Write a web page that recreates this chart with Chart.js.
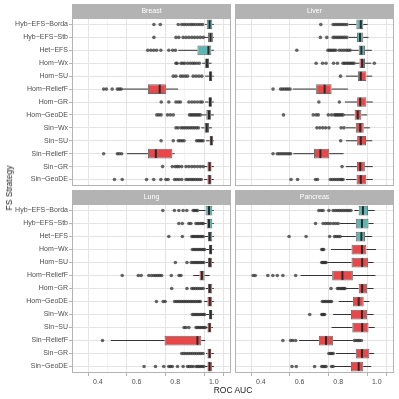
<!DOCTYPE html>
<html><head><meta charset="utf-8">
<script src="https://cdn.jsdelivr.net/npm/chart.js@4/dist/chart.umd.min.js"></script>
<style>
html,body{margin:0;padding:0;background:#fff;}
#wrap{position:relative;width:399px;height:399px;overflow:hidden;background:#fff;font-family:"Liberation Sans",Arial,sans-serif;}
canvas{position:absolute;left:0;top:0;}
.xt{position:absolute;left:72px;width:322px;top:384px;text-align:center;font-size:8.5px;color:#1a1a1a;line-height:12px;}
.yt{position:absolute;left:9px;top:188px;transform:translate(-50%,-50%) rotate(-90deg);font-size:8.5px;white-space:nowrap;color:#1a1a1a;line-height:10px;}
</style></head>
<body><div id="wrap">
<canvas id="c0" width="399" height="399"></canvas>
<canvas id="c1" width="399" height="399"></canvas>
<canvas id="c2" width="399" height="399"></canvas>
<canvas id="c3" width="399" height="399"></canvas>
<div class="xt">ROC AUC</div>
<div class="yt">FS Strategy</div>
</div>
<script>
const CATEGORIES = ["Hyb−EFS−Borda","Hyb−EFS−Stb","Het−EFS","Hom−Wx","Hom−SU","Hom−ReliefF","Hom−GR","Hom−GeoDE","Sin−Wx","Sin−SU","Sin−ReliefF","Sin−GR","Sin−GeoDE"];
const IS_ENSEMBLE_MIX = [true,true,true,false,false,false,false,false,false,false,false,false,false];
const PANELS = ["Breast","Liver","Lung","Pancreas"];
const X_MAJOR = [0.4,0.6,0.8,1.0];
const X_MINOR = [0.5,0.7,0.9];

// [lower whisker, Q1, median, Q3, upper whisker]
const BREAST_BOX = [
 [0.955,0.963,0.978,0.992,1.0],[0.95,0.97,0.983,0.995,1.0],[0.816,0.915,0.972,0.987,1.0],
 [0.94,0.955,0.964,0.975,0.988],[0.955,0.975,0.983,0.992,1.0],[0.523,0.659,0.72,0.752,0.815],
 [0.955,0.972,0.98,0.991,1.0],[0.938,0.961,0.975,0.985,1.0],[0.935,0.952,0.963,0.975,0.99],
 [0.96,0.978,0.987,0.995,1.0],[0.55,0.659,0.7,0.785,0.797],[0.95,0.967,0.978,0.988,1.0],
 [0.95,0.967,0.978,0.988,1.0]];
const BREAST_OUT = [
 [0.69,0.723,0.816,0.834,0.846,0.858,0.871,0.883,0.893,0.905,0.918,0.93,0.942],
 [0.69,0.804,0.819,0.841,0.856,0.871,0.886,0.9,0.915,0.93,0.945],
 [0.658,0.674,0.689,0.704,0.726,0.767,0.787,0.801],
 [0.804,0.81,0.83,0.84,0.85,0.865,0.878,0.89,0.9,0.912,0.925],
 [0.79,0.804,0.827,0.839,0.852,0.864,0.893,0.908,0.923,0.938],
 [0.43,0.444,0.474,0.501,0.511,0.52],
 [0.728,0.767,0.804,0.816,0.827,0.871,0.886,0.9,0.915,0.93,0.94],
 [0.705,0.716,0.727,0.76,0.775,0.79,0.874,0.882,0.89,0.898,0.906,0.914,0.922,0.93],
 [0.804,0.815,0.83,0.84,0.85,0.86,0.87,0.88,0.89,0.9,0.91,0.92],
 [0.727,0.79,0.816,0.826,0.836,0.846,0.911,0.92,0.928,0.936,0.944],
 [0.43,0.501,0.511,0.523],
 [0.735,0.785,0.8,0.81,0.82,0.834,0.856,0.871,0.886,0.9,0.915,0.93,0.945],
 [0.486,0.526,0.652,0.689,0.726,0.752,0.763,0.797,0.808,0.82,0.834,0.856,0.866,0.876,0.886,0.895,0.905,0.915,0.925,0.935]];

const LIVER_BOX = [
 [0.855,0.894,0.917,0.93,0.952],[0.855,0.897,0.913,0.93,0.957],[0.87,0.906,0.92,0.939,0.974],
 [0.89,0.91,0.924,0.939,0.971],[0.84,0.902,0.917,0.946,0.976],[0.565,0.686,0.73,0.766,0.85],
 [0.835,0.898,0.914,0.946,0.979],[0.83,0.885,0.901,0.92,0.95],[0.84,0.891,0.914,0.932,0.964],
 [0.84,0.898,0.917,0.944,0.976],[0.568,0.675,0.708,0.754,0.828],[0.84,0.897,0.914,0.938,0.979],
 [0.84,0.895,0.917,0.945,0.979]];
const LIVER_OUT = [
 [0.71,0.774,0.784,0.794,0.804,0.814,0.824,0.834,0.845],
 [0.708,0.741,0.774,0.784,0.794,0.804,0.814,0.824,0.834,0.845],
 [0.586,0.747,0.755,0.763,0.771,0.779,0.788,0.806,0.818,0.83,0.842,0.852,0.862],
 [0.686,0.719,0.737,0.776,0.796,0.825,0.833,0.841,0.85,0.858,0.866,0.874,0.882,0.987],
 [0.812],
 [0.463,0.502,0.512,0.522,0.532,0.541,0.551],
 [0.7,0.806],
 [0.517,0.671,0.686,0.697,0.749,0.766,0.781,0.788,0.795,0.802,0.81,0.817,0.825],
 [0.69,0.705,0.72,0.735,0.752,0.815,0.83],
 [0.813],
 [0.463,0.485,0.495,0.505,0.515,0.525,0.535,0.545,0.554],
 [0.82],
 [0.556,0.59,0.683,0.693,0.759,0.77,0.78,0.79,0.8,0.81,0.818,0.825]];

const LUNG_BOX = [
 [0.923,0.957,0.975,0.992,1.0],[0.95,0.963,0.975,0.992,1.0],[0.953,0.97,0.979,0.992,1.0],
 [0.96,0.975,0.984,0.992,1.0],[0.958,0.97,0.979,0.99,1.0],[0.893,0.926,0.938,0.952,0.978],
 [0.958,0.97,0.979,0.992,1.0],[0.95,0.967,0.979,0.99,1.0],[0.96,0.975,0.984,0.992,1.0],
 [0.96,0.967,0.978,0.987,0.995],[0.467,0.745,0.915,0.935,0.955],[0.96,0.967,0.978,0.987,1.0],
 [0.955,0.967,0.978,0.99,1.0]];
const LUNG_OUT = [
 [0.736,0.796,0.819,0.841,0.86,0.893,0.9,0.908,0.915],
 [0.819,0.837,0.871,0.881,0.908,0.918,0.928,0.938,0.945],
 [0.767,0.837,0.886,0.893,0.9,0.908,0.915,0.922,0.93,0.938,0.945],
 [0.889,0.897,0.905,0.913,0.921,0.929,0.937,0.945,0.952],
 [0.801,0.861,0.883,0.892,0.9,0.908,0.916,0.924,0.932,0.94,0.948],
 [0.526,0.609,0.624,0.664,0.678,0.69,0.7,0.71,0.72,0.73,0.78,0.82,0.83],
 [0.782,0.861,0.886,0.895,0.905,0.915,0.925,0.935,0.945],
 [0.703,0.738,0.748,0.797,0.806,0.815,0.824,0.833,0.842,0.851,0.86,0.869,0.878,0.887,0.896,0.905,0.914,0.923,0.93],
 [0.889,0.897,0.905,0.913,0.921,0.929,0.937,0.945,0.952],
 [0.846,0.856,0.871,0.908,0.916,0.924,0.932,0.94,0.948,0.956],
 [0.424],
 [0.834,0.845,0.856,0.867,0.878,0.889,0.9,0.911,0.922,0.933,0.944],
 [0.639,0.698,0.741,0.767,0.776,0.785,0.812,0.841,0.864,0.873,0.883,0.893,0.908,0.916,0.924,0.932,0.94,0.948]];

const PANCREAS_BOX = [
 [0.884,0.906,0.928,0.954,0.989],[0.81,0.891,0.923,0.957,0.983],[0.815,0.891,0.92,0.939,0.976],
 [0.763,0.869,0.923,0.946,0.996],[0.744,0.869,0.924,0.954,0.983],[0.605,0.769,0.822,0.876,0.993],
 [0.84,0.906,0.924,0.95,0.983],[0.803,0.876,0.906,0.932,0.961],[0.774,0.866,0.923,0.95,0.983],
 [0.766,0.873,0.924,0.957,0.989],[0.598,0.7,0.737,0.774,0.876],[0.788,0.891,0.923,0.961,0.986],
 [0.78,0.866,0.906,0.93,0.971]];
const PANCREAS_OUT = [
 [0.7,0.712,0.722,0.752,0.774,0.785,0.796,0.806,0.816,0.826,0.836,0.846,0.856,0.866],
 [0.683,0.722,0.735,0.747,0.759,0.774,0.787,0.8],
 [0.546,0.634,0.756,0.781,0.791,0.8,0.81],
 [0.715,0.72,0.725],
 [0.715,0.72,0.726,0.732,0.737],
 [0.36,0.371,0.436,0.462,0.485,0.514,0.58],
 [0.763,0.796,0.803,0.81,0.817,0.824,0.83,0.835],
 [0.718,0.726,0.734,0.742,0.75,0.758,0.766],
 [0.653,0.715,0.72,0.725,0.73],
 [],
 [0.514,0.554,0.565,0.58,0.884,0.893,0.902,0.91,0.92],
 [0.752,0.76,0.767,0.774],
 [0.561,0.583,0.678,0.715,0.722,0.73,0.737,0.766,0.774]];

const TEAL = '#5cb6b1';
const RED = '#e8484a';
const FONT = '"Liberation Sans", Arial, sans-serif';

function makePanel(id, title, box, out, area, showY, showX) {
  const Y_W = 70, X_H = 14, STRIP_H = 14;
  const pts = [];
  out.forEach((arr, i) => arr.forEach(v => pts.push({x: v, y: CATEGORIES[i]})));
  const boxParts = {
    id: 'boxParts' + id,
    beforeDraw(chart) {
      const tb = chart.titleBlock, ctx = chart.ctx;
      ctx.save(); ctx.fillStyle = '#b3b3b3';
      ctx.fillRect(tb.left, tb.top, tb.width, tb.height); ctx.restore();
    },
    beforeDatasetsDraw(chart) {
      const {ctx, scales: {x, y}} = chart;
      ctx.save(); ctx.strokeStyle = '#333'; ctx.lineWidth = 1;
      box.forEach((b, i) => {
        const py = y.getPixelForValue(i);
        ctx.beginPath();
        ctx.moveTo(x.getPixelForValue(b[0]), py); ctx.lineTo(x.getPixelForValue(b[1]), py);
        ctx.moveTo(x.getPixelForValue(b[3]), py); ctx.lineTo(x.getPixelForValue(b[4]), py);
        ctx.stroke();
      });
      ctx.restore();
    },
    afterDatasetsDraw(chart) {
      const {ctx, scales: {x, y}} = chart;
      const half = Math.abs(y.getPixelForValue(1) - y.getPixelForValue(0)) * 0.75 / 2;
      ctx.save(); ctx.strokeStyle = '#2a2a2a'; ctx.lineWidth = 2;
      box.forEach((b, i) => {
        const py = y.getPixelForValue(i), px = x.getPixelForValue(b[2]);
        ctx.beginPath(); ctx.moveTo(px, py - half + 0.5); ctx.lineTo(px, py + half - 0.5); ctx.stroke();
      });
      ctx.restore();
    },
    afterDraw(chart) {
      const {ctx, chartArea: a} = chart;
      ctx.save(); ctx.strokeStyle = '#b3b3b3'; ctx.lineWidth = 1;
      ctx.strokeRect(a.left + 0.5, a.top + 0.5, a.right - a.left - 1, a.bottom - a.top - 1);
      ctx.restore();
    }
  };
  const isMinor = c => c.tick && X_MINOR.some(m => Math.abs(m - c.tick.value) < 1e-9);
  return new Chart(document.getElementById(id), {
    type: 'bar',
    data: {
      labels: CATEGORIES,
      datasets: [
        {type: 'scatter', data: pts, pointRadius: 1.8, pointBackgroundColor: 'rgba(45,45,45,0.72)',
         pointBorderWidth: 0, pointHoverRadius: 1.8, order: 1},
        {type: 'bar', indexAxis: 'y', data: box.map(b => [b[1], b[3]]),
         backgroundColor: IS_ENSEMBLE_MIX.map(t => t ? TEAL : RED),
         borderColor: '#6a6a6a', borderWidth: 1, borderSkipped: false,
         barPercentage: 0.75, categoryPercentage: 1, order: 2}
      ]
    },
    options: {
      responsive: false, animation: false, events: [], devicePixelRatio: 1,
      layout: {padding: {left: area.l - (showY ? Y_W : 0), right: 399 - area.r,
                         top: area.t - STRIP_H, bottom: 399 - area.b - (showX ? X_H : 0)}},
      plugins: {
        legend: {display: false}, tooltip: {enabled: false},
        title: {display: true, text: title, color: '#ffffff', fullSize: false,
                font: {family: FONT, size: 7, lineHeight: 10 / 7, weight: 'normal'},
                padding: {top: 2, bottom: 2}}
      },
      scales: {
        x: {
          type: 'linear', min: 0.325, max: 1.03,
          afterBuildTicks: ax => { ax.ticks = X_MAJOR.concat(X_MINOR).sort((a, b) => a - b).map(v => ({value: v})); },
          afterFit: ax => { ax.height = showX ? X_H : 0; },
          border: {display: false},
          grid: {
            color: c => isMinor(c) ? '#f1f1f1' : '#e4e4e4',
            lineWidth: c => isMinor(c) ? 0.7 : 1,
            tickColor: c => isMinor(c) ? 'rgba(0,0,0,0)' : '#b3b3b3',
            drawTicks: showX, tickLength: 3
          },
          ticks: {display: showX, color: '#4d4d4d', font: {family: FONT, size: 7}, padding: 2,
                  autoSkip: false, maxRotation: 0,
                  callback: v => X_MAJOR.some(m => Math.abs(m - v) < 1e-9) ? v.toFixed(1) : ''}
        },
        y: {
          type: 'category', offset: true,
          afterFit: ax => { ax.width = showY ? Y_W : 0; },
          border: {display: false},
          grid: {offset: false, color: '#e4e4e4', lineWidth: 1, drawTicks: showY, tickLength: 3, tickColor: '#b3b3b3'},
          ticks: {display: showY, color: '#4d4d4d', font: {family: FONT, size: 7}, padding: 1, autoSkip: false}
        }
      }
    },
    plugins: [boxParts]
  });
}

makePanel('c0', PANELS[0], BREAST_BOX, BREAST_OUT, {l: 72, t: 18, r: 231, b: 186}, true, false);
makePanel('c1', PANELS[1], LIVER_BOX, LIVER_OUT, {l: 235, t: 18, r: 394, b: 186}, false, false);
makePanel('c2', PANELS[2], LUNG_BOX, LUNG_OUT, {l: 72, t: 204, r: 231, b: 373}, true, true);
makePanel('c3', PANELS[3], PANCREAS_BOX, PANCREAS_OUT, {l: 235, t: 204, r: 394, b: 373}, false, true);
</script>
</body></html>
